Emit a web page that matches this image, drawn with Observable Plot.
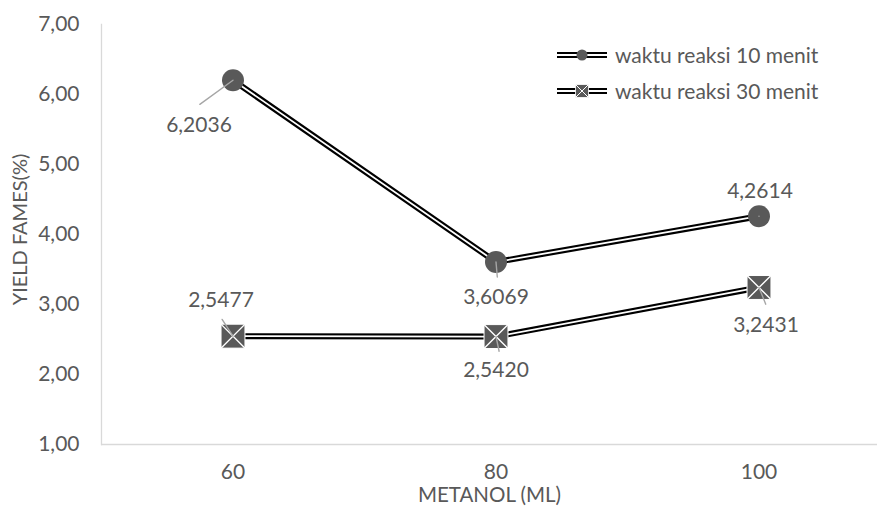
<!DOCTYPE html>
<html><head><meta charset="utf-8">
<script src="https://cdn.jsdelivr.net/npm/d3@7"></script>
<script src="https://cdn.jsdelivr.net/npm/@observablehq/plot@0.6"></script>
<style>
body{margin:0;background:#fff}
#wrap{position:relative;width:877px;height:506px;font-family:Lato,"Open Sans",sans-serif;color:#595959}
#legend{position:absolute;left:556px;top:37px;font-size:21px;line-height:36px}
#legend .row{display:flex;align-items:center;height:36px}
#legend svg{margin-right:7px}
</style>
</head><body><div id="wrap"><div id="legend"></div></div>
<script>
// ---- data ----
const categories = ["60", "80", "100"];
const seriesNames = ["waktu reaksi 10 menit", "waktu reaksi 30 menit"];
const values10 = [6.2036, 3.6069, 4.2614];
const values30 = [2.5477, 2.5420, 3.2431];
const labels10 = ["6,2036", "3,6069", "4,2614"];
const labels30 = ["2,5477", "2,5420", "3,2431"];
const yTicks = [1, 2, 3, 4, 5, 6, 7];
const xTitle = "METANOL (ML)";
const yTitle = "YIELD FAMES(%)";

// ---- layout (label placement, pixels) ----
const place10 = [{dx: -34, dy: 45, len: 41, rot: 234}, {dx: 0, dy: 35, len: 15, rot: 175}, {dx: 1, dy: -25, len: 0, rot: 0}];
const place30 = [{dx: -12, dy: -36, len: 20, rot: 327}, {dx: 0, dy: 34, len: 15, rot: 168}, {dx: 7, dy: 38, len: 18, rot: 158}];

const rows = [];
categories.forEach((c, i) => {
  rows.push({x: c, y: values10[i], s: seriesNames[0], label: labels10[i], p: place10[i]});
  rows.push({x: c, y: values30[i], s: seriesNames[1], label: labels30[i], p: place30[i]});
});
const rows10 = rows.filter(d => d.s === seriesNames[0]);
const rows30 = rows.filter(d => d.s === seriesNames[1]);

const grey = "#595959";
const axisGrey = "#d9d9d9";
const leader = {draw(ctx, l) { ctx.moveTo(0, 0); ctx.lineTo(0, -l); }};

const labelMarks = rows.flatMap(d => [
  Plot.vector([d], {x: "x", y: "y", length: d => d.p.len, rotate: d => d.p.rot, anchor: "start",
    shape: leader, stroke: "#a6a6a6", strokeWidth: 1.4}),
  Plot.text([d], {x: "x", y: "y", text: "label", dx: d.p.dx, dy: d.p.dy, fill: grey, lineAnchor: "middle"})
]);

const chart = Plot.plot({
  width: 877, height: 506,
  marginLeft: 101, marginRight: 0, marginTop: 24, marginBottom: 62,
  style: {fontFamily: "Lato, 'Open Sans', sans-serif", fontSize: "21px", color: grey, background: "#fff"},
  x: {type: "band", domain: categories, range: [101, 890], padding: 0, label: null},
  y: {domain: [1, 7], label: null},
  length: {type: "identity"},
  marks: [
    Plot.frame({anchor: "left", stroke: axisGrey, strokeWidth: 1.3}),
    Plot.ruleY([1], {stroke: axisGrey, strokeWidth: 1.3}),
    Plot.axisY({ticks: yTicks, tickFormat: d => d.toFixed(2).replace(".", ","), tickSize: 0, tickPadding: 22, label: null}),
    Plot.axisX({tickSize: 0, tickPadding: 20, label: null}),
    Plot.text([yTitle], {frameAnchor: "left", textAnchor: "middle", rotate: -90, dx: -81, dy: -5, fill: grey, lineAnchor: "middle", fontSize: 20}),
    Plot.text([xTitle], {frameAnchor: "bottom", textAnchor: "middle", dy: 51, fill: grey, lineAnchor: "middle", fontSize: 20.5}),
    Plot.line(rows, {x: "x", y: "y", z: "s", stroke: "#000", strokeWidth: 6}),
    Plot.line(rows, {x: "x", y: "y", z: "s", stroke: "#fff", strokeWidth: 1.8}),
    Plot.dot(rows10, {x: "x", y: "y", r: 11, fill: grey}),
    Plot.dot(rows30, {x: "x", y: "y", r: 13.5, symbol: "square", fill: grey, stroke: "#fff", strokeWidth: 1}),
    Plot.dot(rows30, {x: "x", y: "y", r: 11, symbol: "times", stroke: "#fff", strokeWidth: 1.4}),
    ...labelMarks
  ]
});
document.getElementById("wrap").prepend(chart);
chart.style.display = "block";

// legend
const leg = document.getElementById("legend");
seriesNames.forEach((name, i) => {
  const row = document.createElement("div");
  row.className = "row";
  const marker = i === 0
    ? `<circle cx="26" cy="9" r="5.5" fill="${grey}"/>`
    : `<rect x="19.5" y="2.5" width="13" height="13" fill="${grey}" stroke="#fff" stroke-width="0.8"/><path d="M20 3L32 15M32 3L20 15" stroke="#fff" stroke-width="1"/>`;
  row.innerHTML = `<svg width="52" height="18"><line x1="1" x2="51" y1="9" y2="9" stroke="#000" stroke-width="6"/><line x1="1" x2="51" y1="9" y2="9" stroke="#fff" stroke-width="1.8"/>${marker}</svg><span>${name}</span>`;
  leg.appendChild(row);
});
</script></body></html>
